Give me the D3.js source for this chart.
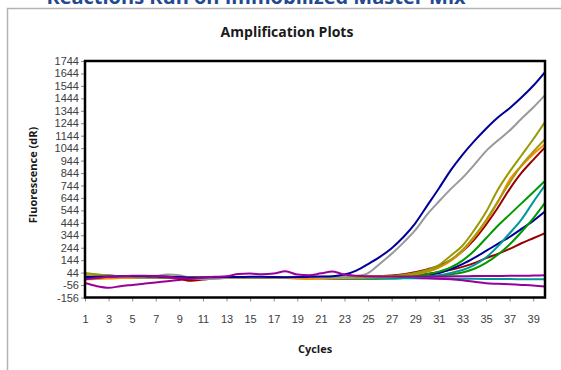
<!DOCTYPE html>
<html>
<head>
<meta charset="utf-8">
<script src="https://cdn.jsdelivr.net/npm/d3@7"></script>
<style>
  html, body { margin: 0; padding: 0; background: #fff; }
  svg { display: block; }
</style>
</head>
<body>
<div id="chart"></div>
<script>
// Cycle numbers (x axis)
const cycles = [1,2,3,4,5,6,7,8,9,10,11,12,13,14,15,16,17,18,19,20,
                21,22,23,24,25,26,27,28,29,30,31,32,33,34,35,36,37,38,39,40];

// Axis tick values / labels
const yTicks = [1744,1644,1544,1444,1344,1244,1144,1044,944,844,744,644,544,444,344,244,144,44,-56,-156];
const xTicks = [1,3,5,7,9,11,13,15,17,19,21,23,25,27,29,31,33,35,37,39];

// Fluorescence (dR) per cycle, one array per well
const navyA   = [8,10,12,14,15,14,12,10,8,5,5,7,8,8,10,10,8,7,8,10,12,15,28,60,112,170,240,330,440,580,720,865,990,1100,1200,1290,1365,1450,1545,1655];
const grayA   = [15,12,10,12,14,15,18,28,22,0,-8,-5,2,5,5,5,4,4,5,6,7,8,10,16,40,115,195,285,385,510,615,715,805,910,1020,1105,1185,1280,1370,1470];
const oliveA  = [40,30,20,15,12,10,12,10,8,5,2,4,5,6,6,7,8,8,8,9,10,10,10,10,12,15,18,25,40,65,105,180,260,385,530,710,855,985,1115,1255];
const oliveB  = [25,20,15,12,10,8,8,10,8,4,2,4,5,5,6,7,7,8,8,8,9,9,10,10,10,12,15,20,32,52,88,145,225,335,465,615,765,905,1015,1115];
const orangeA = [-12,-8,-4,0,2,4,5,6,6,8,5,2,2,4,5,6,4,0,-5,-8,-5,-2,0,2,4,6,10,18,30,50,85,138,218,328,455,610,790,900,995,1075];
const redA    = [10,18,20,15,12,10,8,5,-5,-22,-12,-2,2,4,2,0,2,4,5,5,6,6,7,9,11,15,21,30,48,70,98,145,215,310,430,565,715,845,950,1050];
const greenA  = [5,8,10,10,10,10,10,10,8,6,5,5,5,5,5,5,5,5,5,5,5,5,5,5,5,5,6,10,18,30,52,85,140,220,320,420,510,600,690,780];
const tealA   = [0,2,4,5,5,4,4,2,0,-2,0,2,2,2,2,0,0,0,0,0,-2,-5,-8,-8,-8,-6,-4,0,5,12,22,42,65,105,165,255,360,470,610,745];
const greenB  = [10,12,12,10,10,10,8,8,6,5,5,5,5,6,6,6,5,5,5,5,5,5,5,5,5,5,5,7,10,14,20,30,45,75,122,188,270,370,480,605];
const navyB   = [5,5,6,6,6,6,6,6,5,5,5,5,5,5,5,5,5,5,5,5,5,5,5,5,5,5,7,10,15,24,40,72,112,162,218,275,330,395,460,535];
const redB    = [8,10,12,12,10,10,10,8,6,5,5,5,5,6,6,6,5,5,5,5,5,5,6,6,7,9,12,17,24,34,46,66,90,120,160,195,235,280,320,360];
const purpleA = [-10,0,10,15,18,18,16,10,0,-5,5,10,15,32,36,30,36,55,28,22,38,52,28,18,14,12,12,12,12,12,12,14,15,16,16,17,18,18,20,22];
const tealB   = [5,5,6,6,6,5,5,4,2,0,2,4,4,4,4,3,2,2,2,0,-2,-5,-6,-6,-5,-4,-3,-2,-2,-2,-3,-4,-5,-6,-7,-8,-8,-9,-10,-10];
const purpleB = [-40,-65,-78,-65,-55,-45,-35,-25,-15,-5,0,2,3,4,4,4,4,4,4,4,4,4,4,4,4,4,4,2,0,-2,-5,-10,-18,-30,-42,-46,-50,-55,-60,-68];

// Draw order (later on top) with line colours
const wells = [
  { values: tealB,   color: "#009999" },
  { values: purpleB, color: "#990099" },
  { values: redB,    color: "#990000" },
  { values: navyB,   color: "#000099" },
  { values: greenB,  color: "#009900" },
  { values: tealA,   color: "#009999" },
  { values: greenA,  color: "#009900" },
  { values: redA,    color: "#990000" },
  { values: orangeA, color: "#ff8c00" },
  { values: oliveB,  color: "#a39a10" },
  { values: oliveA,  color: "#999900" },
  { values: grayA,   color: "#999999" },
  { values: navyA,   color: "#000099" },
  { values: purpleA, color: "#990099" }
];

const W = 561, H = 370;
const plot = { left: 85, right: 545, top: 61, bottom: 297.5 };
const tickFont = "'Liberation Sans', Arial, sans-serif";
const titleFont = "'Open Sans', sans-serif";

const svg = d3.select("#chart").append("svg")
  .attr("width", W).attr("height", H);

svg.append("rect").attr("width", W).attr("height", H).attr("fill", "#fff");

// Heading of the page section, running above the frame
svg.append("text")
  .attr("x", 256).attr("y", 4)
  .attr("text-anchor", "middle")
  .attr("font-family", titleFont)
  .attr("font-weight", "bold")
  .attr("font-size", 20)
  .attr("fill", "#24498f")
  .text("Reactions Run on Immobilized Master Mix");

// Chart area frame
svg.append("rect")
  .attr("x", 7.5).attr("y", 8.5)
  .attr("width", 600).attr("height", 400)
  .attr("fill", "#fff")
  .attr("stroke", "#b3b3b3").attr("stroke-width", 1.5);

const x = d3.scaleLinear().domain([1, 40]).range([plot.left, plot.right]);
const y = d3.scaleLinear().domain([-156, 1744]).range([plot.bottom, plot.top]);

// Y axis
const yAxis = svg.append("g")
  .attr("transform", `translate(${plot.left},0)`)
  .call(d3.axisLeft(y).tickValues(yTicks).tickSize(4).tickPadding(2).tickFormat(d => d));
yAxis.select(".domain").remove();
yAxis.selectAll(".tick line").attr("stroke", "#8c8c8c");
yAxis.selectAll(".tick text")
  .attr("font-family", tickFont)
  .attr("font-size", 11)
  .attr("fill", "#404040");

// X axis
const xAxis = svg.append("g")
  .attr("transform", `translate(0,${plot.bottom})`)
  .call(d3.axisBottom(x).tickValues(xTicks).tickSize(4).tickPadding(14).tickFormat(d => d));
xAxis.select(".domain").remove();
xAxis.selectAll(".tick line").attr("stroke", "#8c8c8c");
xAxis.selectAll(".tick text")
  .attr("font-family", tickFont)
  .attr("font-size", 11)
  .attr("fill", "#404040");

// Curves
const line = d3.line()
  .x((d, i) => x(cycles[i]))
  .y(d => y(d))
  .curve(d3.curveMonotoneX);

const clipId = "plotClip";
svg.append("clipPath").attr("id", clipId)
  .append("rect")
  .attr("x", plot.left).attr("y", plot.top)
  .attr("width", plot.right - plot.left).attr("height", plot.bottom - plot.top);

svg.append("g").attr("clip-path", `url(#${clipId})`)
  .selectAll("path")
  .data(wells)
  .join("path")
  .attr("d", d => line(d.values))
  .attr("fill", "none")
  .attr("stroke", d => d.color)
  .attr("stroke-width", 2)
  .attr("stroke-linejoin", "round");

// Plot border
svg.append("rect")
  .attr("x", plot.left).attr("y", plot.top)
  .attr("width", plot.right - plot.left).attr("height", plot.bottom - plot.top)
  .attr("fill", "none")
  .attr("stroke", "#000").attr("stroke-width", 2.5);

// Titles
svg.append("text")
  .attr("x", 287).attr("y", 37)
  .attr("text-anchor", "middle")
  .attr("font-family", titleFont)
  .attr("font-weight", "bold")
  .attr("font-size", 14)
  .attr("fill", "#1a1a1a")
  .text("Amplification Plots");

svg.append("text")
  .attr("transform", "translate(37,175) rotate(-90)")
  .attr("text-anchor", "middle")
  .attr("font-family", titleFont)
  .attr("font-weight", "bold")
  .attr("font-size", 11)
  .attr("fill", "#1a1a1a")
  .text("Fluorescence (dR)");

svg.append("text")
  .attr("x", 315).attr("y", 353)
  .attr("text-anchor", "middle")
  .attr("font-family", titleFont)
  .attr("font-weight", "bold")
  .attr("font-size", 11)
  .attr("fill", "#1a1a1a")
  .text("Cycles");
</script>
</body>
</html>
